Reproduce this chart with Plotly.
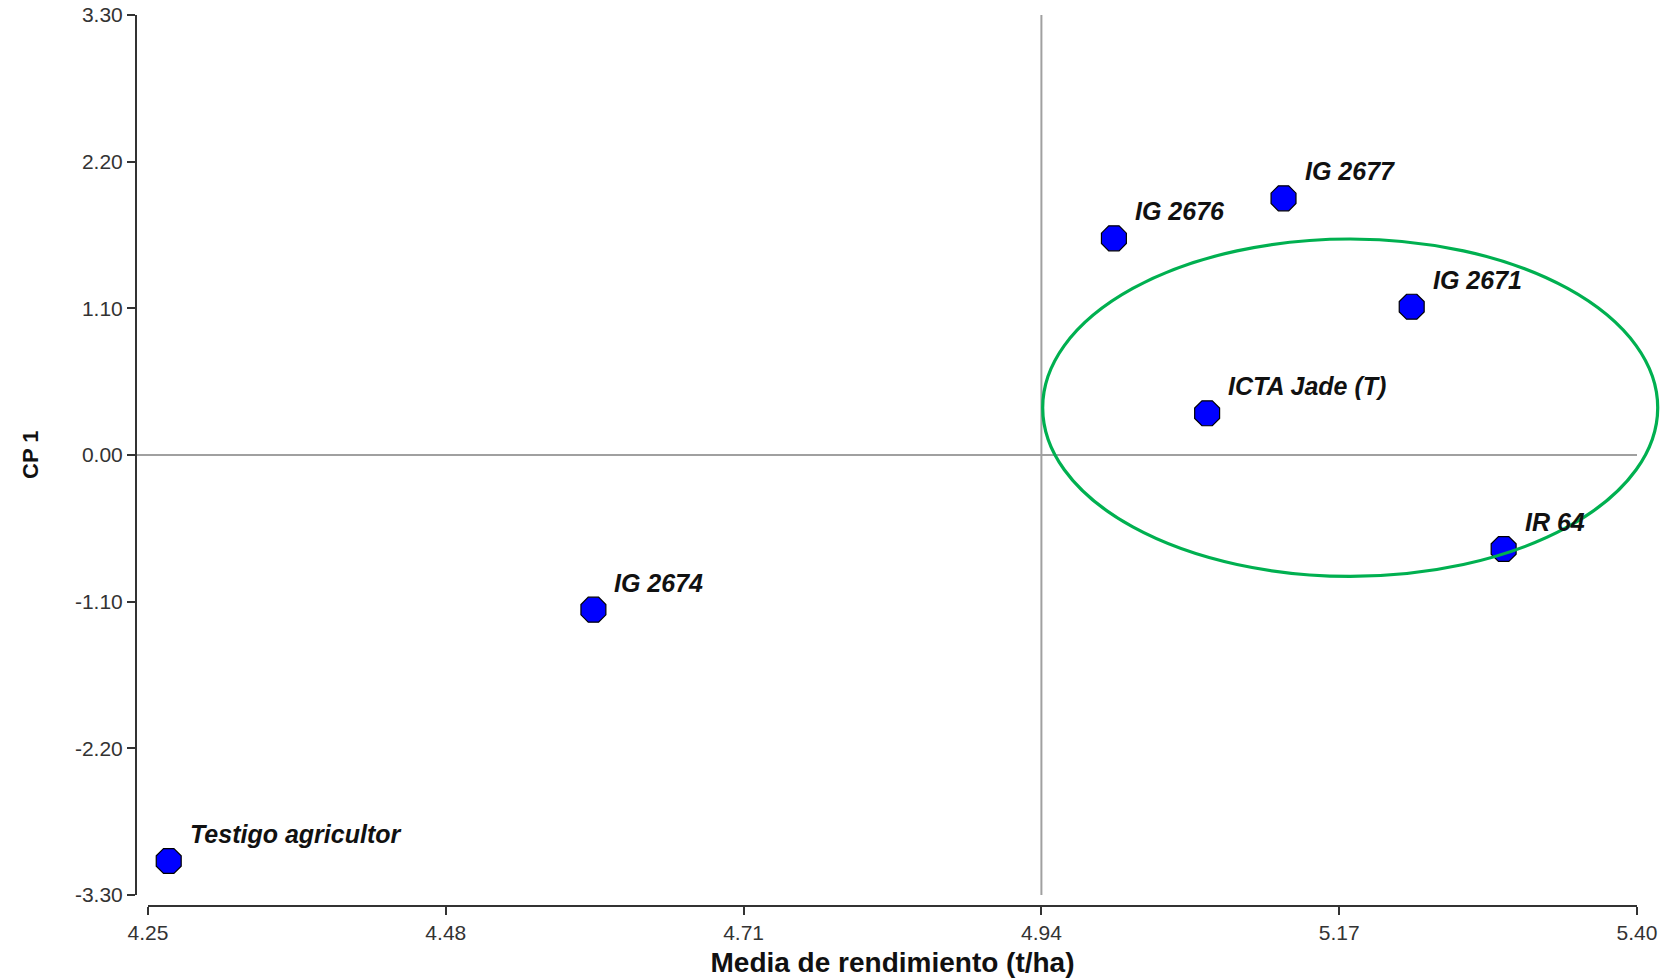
import plotly.graph_objects as go

# ---- data ----
genotypes = ["Testigo agricultor", "IG 2674", "IG 2676", "ICTA Jade (T)", "IG 2677", "IG 2671", "IR 64"]
yield_mean = [4.266, 4.594, 4.996, 5.068, 5.127, 5.226, 5.297]
cp1 = [-3.045, -1.16, 1.625, 0.313, 1.925, 1.112, -0.705]

x_ticks = [4.25, 4.48, 4.71, 4.94, 5.17, 5.40]
y_ticks = [-3.30, -2.20, -1.10, 0.00, 1.10, 2.20, 3.30]
x_ref_line = 4.94   # mean yield reference
y_ref_line = 0.0

# highlighted group ellipse (data units)
ell_x = [4.941, 5.416]
ell_y = [-0.91, 1.62]

X_RANGE = [x_ticks[0], x_ticks[-1]]
Y_RANGE = [y_ticks[0], y_ticks[-1]]

# figure is placed at (8, 8) in the page by the default body margin
W, H = 1666, 970
ML, MR, MT, MB = 128, 37, 7, 72
PW = W - ML - MR
PH = H - MT - MB
X_START_PX = 140   # where the x range begins (figure px)
Y_END_PX = 887     # where the y range bottom sits (figure px)
Y_TITLE_PX = 22    # centre of the rotated y title (figure px)

FONT = "Liberation Sans, Arial, sans-serif"

fig = go.Figure()

fig.add_trace(go.Scatter(
    x=yield_mean, y=cp1, mode="markers",
    marker=dict(symbol="octagon", size=27, color="#0000FF",
                line=dict(color="#000000", width=1.2)),
    cliponaxis=False, hoverinfo="text", text=genotypes, showlegend=False,
))

for name, xv, yv in zip(genotypes, yield_mean, cp1):
    fig.add_annotation(
        x=xv, y=yv, text=name, showarrow=False,
        xanchor="left", yanchor="middle", xshift=19, yshift=27,
        font=dict(family=FONT, size=25, color="#111111", weight="bold", style="italic"),
    )

def fx(v):
    return (v - X_RANGE[0]) / (X_RANGE[1] - X_RANGE[0])

def fy(v):
    return (v - Y_RANGE[0]) / (Y_RANGE[1] - Y_RANGE[0])

# reference lines
fig.add_shape(type="line", xref="x", yref="y domain", x0=x_ref_line, x1=x_ref_line,
              y0=0, y1=1, line=dict(color="#A0A0A0", width=2), layer="below")
fig.add_shape(type="line", xref="paper", yref="y", x0=0, x1=1,
              y0=y_ref_line, y1=y_ref_line, line=dict(color="#A0A0A0", width=2), layer="below")

# ellipse
fig.add_shape(type="circle", xref="x domain", yref="y domain",
              x0=fx(ell_x[0]), x1=fx(ell_x[1]), y0=fy(ell_y[0]), y1=fy(ell_y[1]),
              line=dict(color="#00B050", width=3.2), layer="above")

# y-axis title
fig.add_annotation(
    xref="paper", yref="y domain", x=(Y_TITLE_PX - ML) / PW, y=0.5,
    text="CP 1", textangle=-90, showarrow=False, xanchor="center", yanchor="middle",
    font=dict(family=FONT, size=22, color="#111111", weight="bold"),
)

axis_common = dict(
    showgrid=False, zeroline=False, showline=True, linecolor="#333333", linewidth=2,
    ticks="outside", ticklen=8, tickwidth=2, tickcolor="#333333",
    tickfont=dict(family=FONT, size=21, color="#333333"),
    anchor="free", position=0, automargin=False, ticklabeloverflow="allow",
)

fig.update_layout(
    width=W, height=H,
    margin=dict(l=ML, r=MR, t=MT, b=MB, pad=0),
    paper_bgcolor="white", plot_bgcolor="white",
    xaxis=dict(
        range=X_RANGE, domain=[(X_START_PX - ML) / PW, 1],
        tickvals=x_ticks, ticktext=[f"{v:.2f}" for v in x_ticks],
        title=dict(text="Media de rendimiento (t/ha)", standoff=12,
                   font=dict(family=FONT, size=28, color="#111111", weight="bold")),
        **axis_common,
    ),
    yaxis=dict(
        range=Y_RANGE, domain=[((H - MB) - Y_END_PX) / PH, 1],
        tickvals=y_ticks, ticktext=[f"{v:.2f}" for v in y_ticks],
        **axis_common,
    ),
)

fig.write_html("out.html")
